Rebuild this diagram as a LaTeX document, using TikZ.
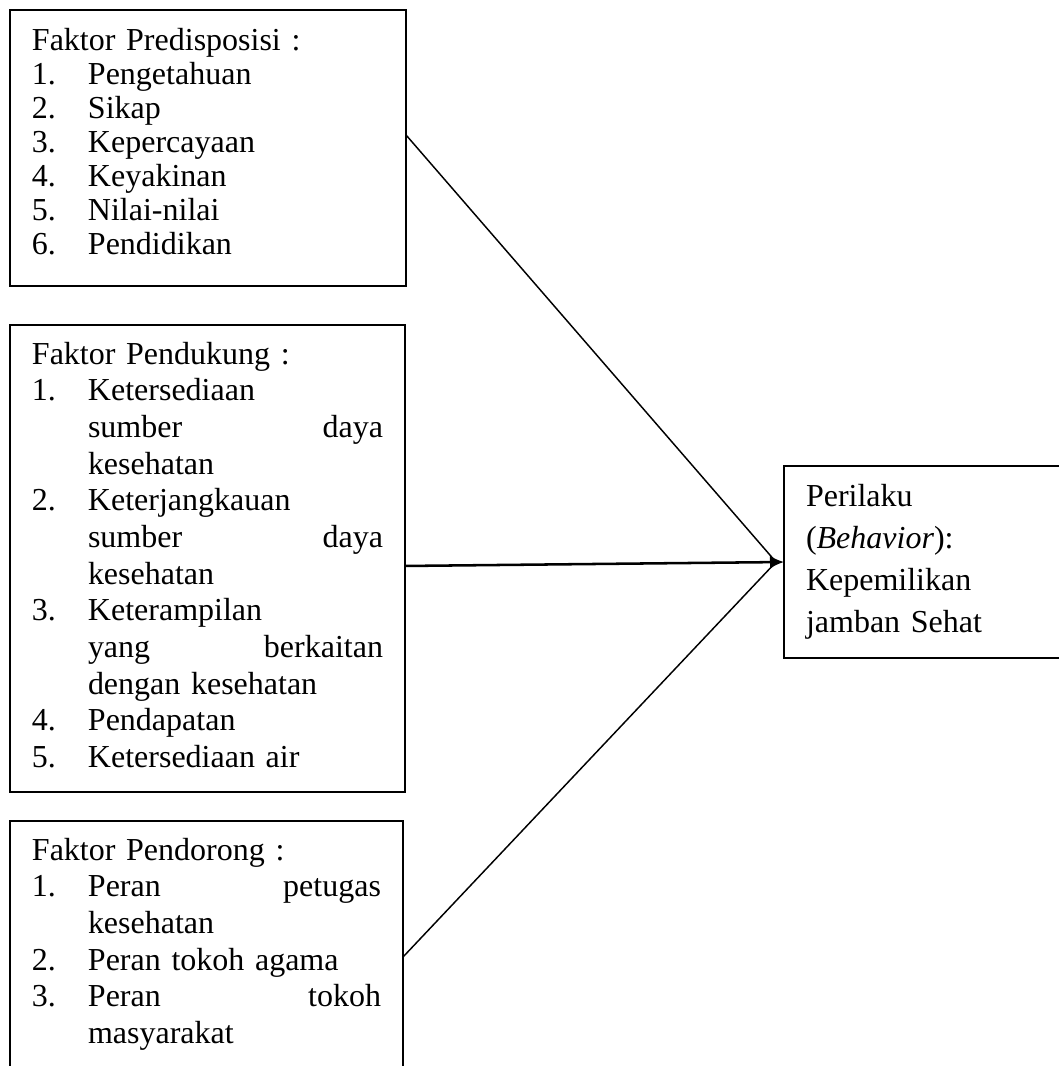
\documentclass[tikz,border=0pt]{standalone}
\usepackage{fontspec}
\setmainfont{Liberation Serif}
\usetikzlibrary{arrows.meta}
\newcommand{\nomor}[1]{\makebox[21pt][l]{#1}}
\newcommand{\lanjut}{\hspace*{21pt}}

\begin{document}
\begin{tikzpicture}[x=0.375pt, y=-0.375pt,
    faktor/.style={draw, line width=0.75pt, anchor=north west, align=left,
      inner xsep=8.25pt, inner ysep=0pt, outer sep=0pt,
      font=\fontsize{12}{13.76}\selectfont},
    garis/.style={line width=0.55pt}]
    \clip (0,0) rectangle (1059,1066);
    \node[faktor, text width=132pt, text height=15pt, text depth=88.5pt,
      font=\fontsize{12}{12.75}\selectfont] (predis) at (10,10)
      {Faktor Predisposisi :\\
      \nomor{1.}Pengetahuan\\
      \nomor{2.}Sikap\\
      \nomor{3.}Kepercayaan\\
      \nomor{4.}Keyakinan\\
      \nomor{5.}Nilai-nilai\\
      \nomor{6.}Pendidikan};
    \node[faktor, text width=131.625pt, text height=14.625pt,
      text depth=160.5pt] (dukung) at (10,325)
      {Faktor Pendukung :\\
      \nomor{1.}Ketersediaan\\
      \lanjut sumber\hfill daya\\
      \lanjut kesehatan\\
      \nomor{2.}Keterjangkauan\\
      \lanjut sumber\hfill daya\\
      \lanjut kesehatan\\
      \nomor{3.}Keterampilan\\
      \lanjut yang\hfill berkaitan\\
      \lanjut dengan kesehatan\\
      \nomor{4.}Pendapatan\\
      \nomor{5.}Ketersediaan air};
    \node[faktor, text width=130.875pt, text height=14.625pt,
      text depth=87.375pt] (dorong) at (10,821)
      {Faktor Pendorong :\\
      \nomor{1.}Peran\hfill petugas\\
      \lanjut kesehatan\\
      \nomor{2.}Peran tokoh agama\\
      \nomor{3.}Peran\hfill tokoh\\
      \lanjut masyarakat};
    \node[faktor, text width=94.5pt, text height=15pt, text depth=57pt,
      font=\fontsize{12}{15.86}\selectfont] (perilaku) at (784,466)
      {Perilaku\\
      (\textit{Behavior}):\\
      Kepemilikan\\
      jamban Sehat};
    \coordinate (temu) at ([xshift=-3pt]perilaku.west);
    \draw[garis] ([yshift=4.9pt]predis.east) -- (temu);
    \draw[line width=0.95pt, -{Latex[length=5.25pt, width=5pt]}]
      ([yshift=-2.8pt]dukung.east) -- (perilaku.west);
    \draw[garis] (dorong.east) -- (temu);
\end{tikzpicture}
\end{document}
